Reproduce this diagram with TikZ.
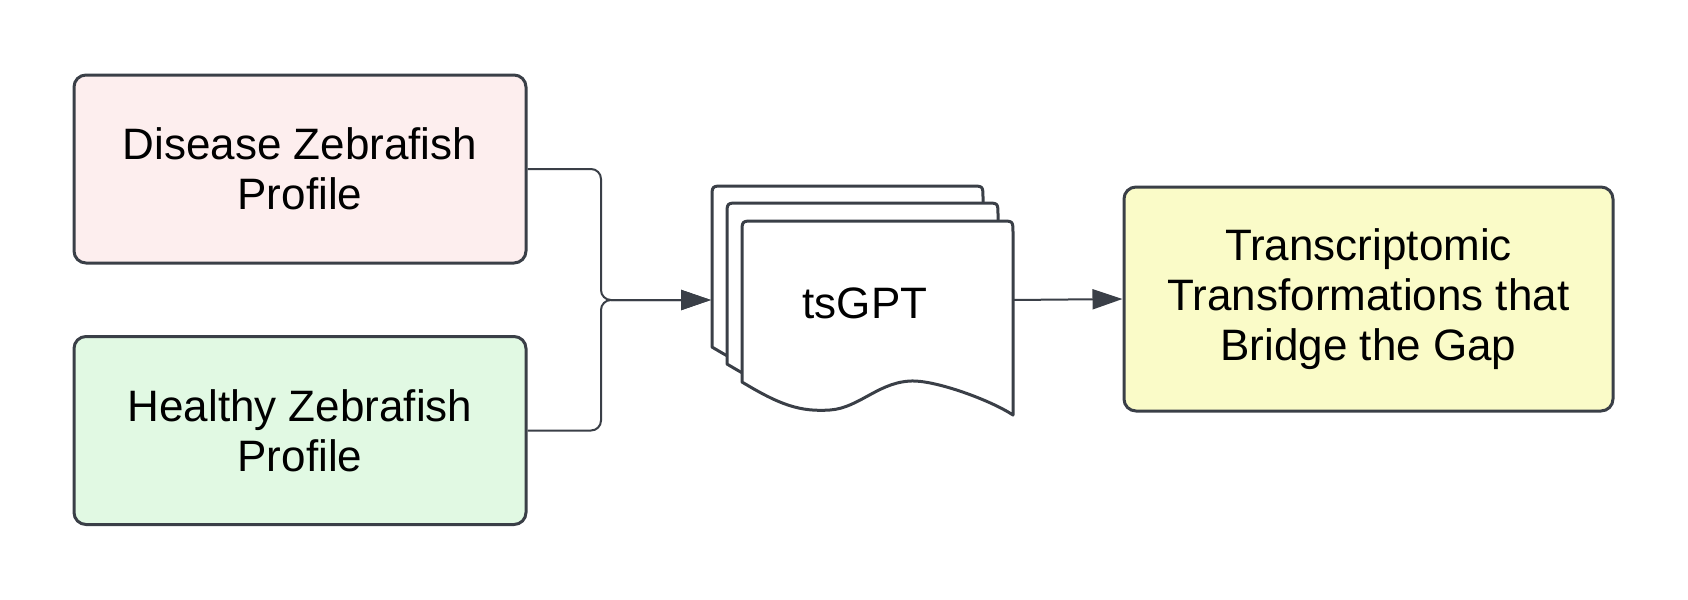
\documentclass[tikz,border=0pt]{standalone}
\usepackage{fontspec}
\setmainfont{Liberation Sans}
\usetikzlibrary{arrows.meta}
\definecolor{edge}{HTML}{3A3F47}
\definecolor{pinkfill}{HTML}{FDEEEE}
\definecolor{greenfill}{HTML}{E1F9E3}
\definecolor{yellowfill}{HTML}{FAFBC8}
\tikzset{
  box/.style={draw=edge, line width=1.5pt, rounded corners=6pt, minimum width=226pt, minimum height=94pt, align=center, font=\fontsize{22pt}{25pt}\selectfont, inner sep=0pt},
  docstyle/.style={draw=edge, line width=1.5pt, fill=white, line join=round},
  conn/.style={draw=edge, line width=1pt, rounded corners=5pt, -{Triangle[length=15pt,width=10pt]}},
  lbl/.style={font=\fontsize{22pt}{25pt}\selectfont}
}
\newcommand{\mydocpath}{(742,382) -- (742,233) .. controls (742,221) .. (754,221) -- (1001,221) .. controls (1013,221) .. (1013,233) -- (1013,415) .. controls (990,400) and (940,382) .. (915,381) .. controls (880,380) and (860,408) .. (830,410) .. controls (800,412) and (780,405) .. (742,382) -- cycle}
\begin{document}
\begin{tikzpicture}[x=0.5pt,y=-0.5pt]
\useasboundingbox (0,0) rectangle (1688,600);
\node[box, fill=pinkfill] (dis) at (300,169) {Disease Zebrafish\\Profile};
\node[box, fill=greenfill] (hea) at (300,430.5) {Healthy Zebrafish\\Profile};
\node[box, fill=yellowfill, minimum width=244.5pt, minimum height=112pt] (out) at (1368.5,299) {Transcriptomic\\Transformations that\\Bridge the Gap};
\begin{scope}[shift={(-30,-35)}]
  \path[docstyle] \mydocpath;
\end{scope}
\begin{scope}[shift={(-15,-18)}]
  \path[docstyle] \mydocpath;
\end{scope}
\path[docstyle] \mydocpath;
\node[lbl, anchor=base] (doc) at (865,318) {tsGPT};
\coordinate (docin) at (711,300);
\coordinate (docout) at (1013,300);
\coordinate (join) at (601,300);
\draw[conn] (dis.east) -| (join) -- (docin);
\draw[conn] (hea.east) -| (join) -- (docin);
\draw[conn] (docout) -- (out.west);
\end{tikzpicture}
\end{document}
